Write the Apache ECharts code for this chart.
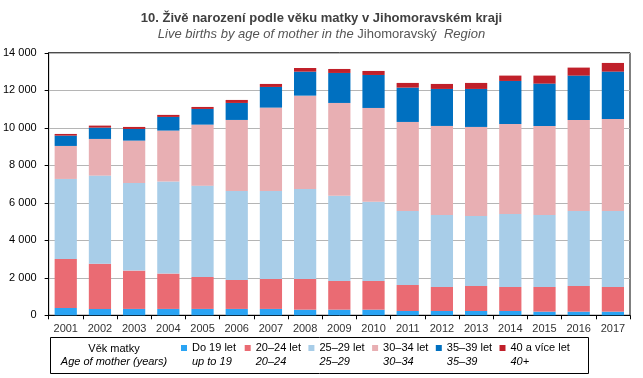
<!DOCTYPE html>
<html>
<head>
<meta charset="utf-8">
<script src="https://cdn.jsdelivr.net/npm/echarts@6/dist/echarts.min.js"></script>
<style>
html,body{margin:0;padding:0;background:#fff;}
#chart{width:643px;height:378px;}
</style>
</head>
<body>
<div id="chart"></div>
<script>
var years = ['2001','2002','2003','2004','2005','2006','2007','2008','2009','2010','2011','2012','2013','2014','2015','2016','2017'];
var namesCz = ['Do 19 let','20–24 let','25–29 let','30–34 let','35–39 let','40 a více let'];
var namesEn = ['up to 19','20–24','25–29','30–34','35–39','40+'];
var ageTo19 = [390, 340, 340, 340, 340, 340, 340, 300, 300, 300, 230, 230, 230, 230, 195, 195, 195];
var age20_24 = [2615, 2416, 2043, 1884, 1705, 1545, 1598, 1636, 1530, 1530, 1388, 1281, 1335, 1281, 1316, 1370, 1316];
var age25_29 = [4267, 4694, 4676, 4908, 4871, 4747, 4694, 4801, 4552, 4232, 3947, 3841, 3733, 3894, 3841, 4000, 4054];
var age30_34 = [1760, 1956, 2258, 2720, 3254, 3787, 4445, 4978, 4943, 4996, 4747, 4747, 4748, 4801, 4747, 4854, 4907];
var age35_39 = [551, 604, 622, 729, 836, 907, 1102, 1280, 1600, 1760, 1832, 1974, 2027, 2293, 2258, 2365, 2525];
var age40plus = [89, 107, 107, 107, 106, 160, 160, 196, 213, 214, 249, 266, 320, 285, 427, 427, 462];
var colors = ['#2AA4F4','#EA6B73','#A8CDE8','#E8AFB3','#0070C0','#C0202A'];

var seriesData = [ageTo19, age20_24, age25_29, age30_34, age35_39, age40plus];
var FONT = '"Liberation Sans", Arial, sans-serif';

var chart = echarts.init(document.getElementById('chart'));
var series = seriesData.map(function(d, i){
  return {
    name: namesCz[i], type: 'bar', stack: 'total', data: d,
    barWidth: '65%',
    itemStyle: {color: colors[i]},
    emphasis: {disabled: true}
  };
});
var legendCommon = {
  left: 181, padding: 0, itemWidth: 6, itemHeight: 6, itemGap: 0, icon: 'rect',
  data: namesCz, selectedMode: false
};
chart.setOption({
  animation: false,
  textStyle: {fontFamily: FONT},
  title: {
    left: 'center', top: 11, itemGap: 1, padding: 0,
    text: '10. Živě narození podle věku matky v Jihomoravském kraji',
    textStyle: {fontFamily: FONT, fontSize: 13, fontWeight: 'bold', color: '#404040', lineHeight: 15},
    subtext: '{i|Live births by age of mother in the} {n|Jihomoravský}  {i|Region}',
    subtextStyle: {
      fontFamily: FONT, fontSize: 13, color: '#555', lineHeight: 14,
      rich: {
        i: {fontFamily: FONT, fontSize: 13, fontStyle: 'italic', color: '#555'},
        n: {fontFamily: FONT, fontSize: 13, color: '#555'}
      }
    }
  },
  grid: {left: 46.7, right: 13, top: 52.8, bottom: 62.7, show: true, borderColor: '#000', borderWidth: 1, containLabel: false},
  xAxis: {
    type: 'category', data: years,
    axisLine: {lineStyle: {color: '#000', width: 1}},
    axisTick: {show: true, length: 4, lineStyle: {color: '#000'}},
    axisLabel: {fontFamily: FONT, fontSize: 11, color: '#333', margin: 8}
  },
  yAxis: {
    type: 'value', min: 0, max: 14000, interval: 2000,
    axisLine: {show: true, lineStyle: {color: '#000', width: 1}},
    axisTick: {show: true, length: 4, lineStyle: {color: '#000'}},
    splitLine: {lineStyle: {color: '#B5B5B5', width: 1}},
    axisLabel: {
      fontFamily: FONT, fontSize: 11, color: '#000', margin: 12,
      formatter: function(v){ return String(v).replace(/\B(?=(\d{3})+(?!\d))/g, ' '); }
    }
  },
  legend: [
    Object.assign({}, legendCommon, {
      top: 341.5,
      textStyle: {fontFamily: FONT, fontSize: 11, color: '#000', width: 52.7, lineHeight: 13}
    }),
    Object.assign({}, legendCommon, {
      top: 355.5,
      itemStyle: {opacity: 0},
      formatter: function(n){ return namesEn[namesCz.indexOf(n)]; },
      textStyle: {fontFamily: FONT, fontSize: 11, fontStyle: 'italic', color: '#000', width: 52.7, lineHeight: 13}
    })
  ],
  graphic: [
    {type: 'rect', shape: {x: 50.5, y: 337.5, width: 538, height: 36}, style: {fill: 'none', stroke: '#000', lineWidth: 1}, silent: true},
    {type: 'text', x: 114, y: 349.3, style: {text: 'Věk matky', font: '11px ' + FONT, fill: '#000', textAlign: 'center', textVerticalAlign: 'middle'}, silent: true},
    {type: 'text', x: 114, y: 361.7, style: {text: 'Age of mother (years)', font: 'italic 11px ' + FONT, fill: '#000', textAlign: 'center', textVerticalAlign: 'middle'}, silent: true}
  ],
  series: series
});
</script>
</body>
</html>
